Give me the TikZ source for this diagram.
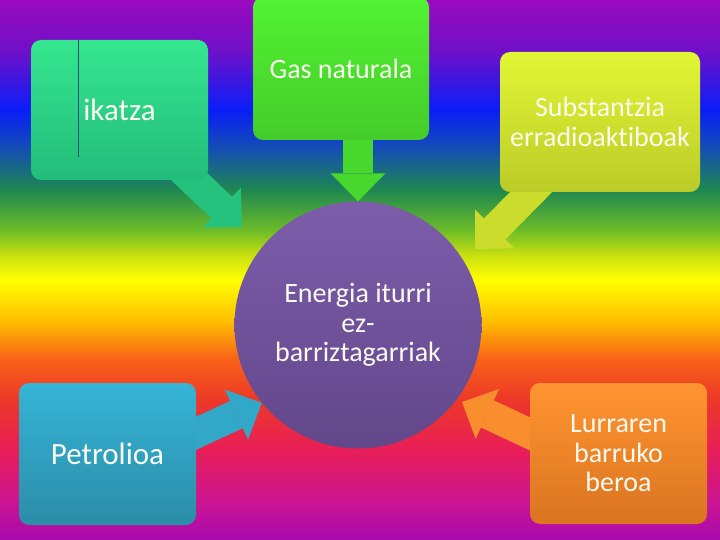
\documentclass[tikz,border=0pt]{standalone}
\usepackage{fontspec}
\setmainfont{Carlito}[Ligatures=NoCommon]
\usetikzlibrary{arrows.meta,backgrounds}
\definecolor{ikatzaA}{HTML}{35E68F}
\definecolor{ikatzaB}{HTML}{22BC7A}
\definecolor{gasA}{HTML}{52F232}
\definecolor{gasB}{HTML}{44CC2A}
\definecolor{substA}{HTML}{E2F634}
\definecolor{substB}{HTML}{BBCB28}
\definecolor{petrolA}{HTML}{36B4D6}
\definecolor{petrolB}{HTML}{2A8DA8}
\definecolor{lurrA}{HTML}{FF9431}
\definecolor{lurrB}{HTML}{DA7420}
\definecolor{energiaA}{HTML}{7D5DAB}
\definecolor{energiaB}{HTML}{62478A}
\definecolor{lerroa}{HTML}{1C4C80}
\definecolor{testua}{HTML}{FAFAF0}
% ostadarraren koloreak
\definecolor{os0}{HTML}{9A0ABE}
\definecolor{os1}{HTML}{7010C8}
\definecolor{os2}{HTML}{0A1EF8}
\definecolor{os3}{HTML}{1450B0}
\definecolor{os4}{HTML}{1E8850}
\definecolor{os5}{HTML}{6CBC28}
\definecolor{os6}{HTML}{C8E010}
\definecolor{os7}{HTML}{FFFF00}
\definecolor{os8}{HTML}{FFC000}
\definecolor{os9}{HTML}{F86018}
\definecolor{os10}{HTML}{EC3828}
\definecolor{os11}{HTML}{E81E58}
\definecolor{os12}{HTML}{CC1490}
\definecolor{os13}{HTML}{A80AAE}
\pgfdeclareverticalshading{ostadar}{100bp}{
	color(0bp)=(os13); color(25bp)=(os13); color(28.7bp)=(os12);
	color(33.33bp)=(os11); color(37.96bp)=(os10); color(41.67bp)=(os9);
	color(45.37bp)=(os8); color(49.07bp)=(os7); color(51.39bp)=(os6);
	color(53.7bp)=(os5); color(57.41bp)=(os4); color(61.11bp)=(os3);
	color(64.81bp)=(os2); color(70.37bp)=(os1); color(75bp)=(os0);
	color(100bp)=(os0)}
\tikzset{
	box/.style 2 args={rectangle,rounded corners=10pt,top color=#1,bottom color=#2,text=testua,align=center,inner sep=0pt},
	flow/.style={line width=30pt,draw=#1,-{Triangle[length=28pt,width=55pt,line width=0pt]}}
}

\begin{document}
\begin{tikzpicture}[x=1pt,y=-1pt,font=\fontsize{28}{29.5}\selectfont]
	\useasboundingbox (0,0) rectangle (720,540);

	\node [box={ikatzaA}{ikatzaB},minimum width=177pt,minimum height=140pt,font=\fontsize{31}{33}\selectfont] (ikatza) at (119.5,110) {ikatza};
	\node [box={gasA}{gasB},minimum width=176pt,minimum height=143pt] (gas) at (341,68.5) {Gas naturala};
	\node [box={substA}{substB},minimum width=200pt,minimum height=140pt] (subst) at (600,122) {Substantzia\\erradioaktiboak};
	\node [box={petrolA}{petrolB},minimum width=177pt,minimum height=142pt,font=\fontsize{31}{33}\selectfont] (petrol) at (107.5,454) {Petrolioa};
	\node [box={lurrA}{lurrB},minimum width=177pt,minimum height=141pt] (lurr) at (618.5,453.5) {Lurraren\\barruko\\beroa};
	\node [circle,minimum size=247pt,top color=energiaA,bottom color=energiaB,text=testua,align=center,inner sep=0pt] (energia) at (358,325) {Energia iturri\\ez-\\barriztagarriak};

	\draw [lerroa,line width=1pt] ([xshift=48pt]ikatza.north west) -- ([xshift=48pt,yshift=23pt]ikatza.south west);

	\coordinate (ikatzaP) at (242,227);
	\coordinate (substP) at (475,249);
	\coordinate (petrolS) at (175,443);
	\coordinate (lurrS) at (560,448);
	\coordinate (lurrP) at (462,402);

	\begin{scope}[on background layer]
		\shade [shading=ostadar] (0,0) rectangle (720,540);
		\draw [flow=ikatzaB!85!ikatzaA] (ikatza.center) -- (ikatzaP);
		\draw [flow=gasB!70!gasA] (energia.north |- gas.center) -- (energia.north);
		\draw [flow=substB!60!substA] (subst.center) -- (substP);
		\draw [flow=petrolA!70!petrolB] (petrolS) -- (energia.219);
		\draw [flow=lurrA!80!lurrB] (lurrS) -- (lurrP);
	\end{scope}
\end{tikzpicture}
\end{document}
